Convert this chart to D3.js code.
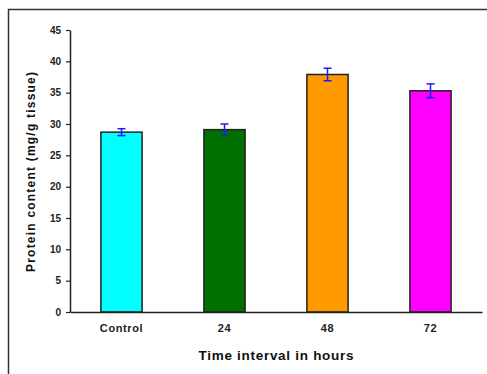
<!DOCTYPE html>
<html lang="en">
<head>
<meta charset="utf-8">
<title>Protein content</title>
<script src="https://d3js.org/d3.v7.min.js"></script>
<style>
  body { margin: 0; background: #fff; }
  svg text { font-family: "Liberation Sans", Arial, sans-serif; font-weight: bold; }
</style>
</head>
<body>
<div id="chart"></div>
<script>
// data
const categories = ["Control", "24", "48", "72"];
const values = [28.7, 29.1, 37.9, 35.3];
const errors = [0.55, 0.9, 1.0, 1.1];
const colors = ["#00ffff", "#007000", "#ff9900", "#ff00ff"];
const yTicks = [0, 5, 10, 15, 20, 25, 30, 35, 40, 45];

const W = 487, H = 374;
const margin = { top: 30, right: 5, bottom: 62, left: 70 };

const svg = d3.select("#chart").append("svg")
    .attr("width", W)
    .attr("height", H);

// outer frame (runs past the right and bottom edges)
svg.append("rect")
    .attr("x", 8.5).attr("y", 9.5)
    .attr("width", W + 10).attr("height", H + 10)
    .attr("fill", "none")
    .attr("stroke", "#333")
    .attr("stroke-width", 1.5);

const x = d3.scaleBand()
    .domain(categories)
    .range([margin.left, W - margin.right])
    .paddingInner(0.6)
    .paddingOuter(0.3);

const y = d3.scaleLinear()
    .domain([0, 45])
    .range([H - margin.bottom, margin.top]);

// bars
svg.selectAll(".bar")
    .data(categories)
    .enter().append("rect")
    .attr("class", "bar")
    .attr("x", d => x(d))
    .attr("y", (d, i) => y(values[i]))
    .attr("width", x.bandwidth())
    .attr("height", (d, i) => y(0) - y(values[i]))
    .attr("fill", (d, i) => colors[i])
    .attr("stroke", "#222")
    .attr("stroke-width", 1.5);

// error bars
const eb = svg.selectAll(".err")
    .data(categories)
    .enter().append("g")
    .attr("class", "err")
    .attr("stroke", "#1a1aff")
    .attr("stroke-width", 1.5);
eb.append("line")
    .attr("x1", d => x(d) + x.bandwidth() / 2)
    .attr("x2", d => x(d) + x.bandwidth() / 2)
    .attr("y1", (d, i) => y(values[i] + errors[i]))
    .attr("y2", (d, i) => y(values[i] - errors[i]));
eb.append("line")
    .attr("x1", d => x(d) + x.bandwidth() / 2 - 4)
    .attr("x2", d => x(d) + x.bandwidth() / 2 + 4)
    .attr("y1", (d, i) => y(values[i] + errors[i]))
    .attr("y2", (d, i) => y(values[i] + errors[i]));
eb.append("line")
    .attr("x1", d => x(d) + x.bandwidth() / 2 - 4)
    .attr("x2", d => x(d) + x.bandwidth() / 2 + 4)
    .attr("y1", (d, i) => y(values[i] - errors[i]))
    .attr("y2", (d, i) => y(values[i] - errors[i]));

// y axis
const yAxis = svg.append("g")
    .attr("transform", `translate(${margin.left},0)`)
    .call(d3.axisLeft(y).tickValues(yTicks).tickSize(4).tickSizeOuter(0));
yAxis.select(".domain").attr("stroke", "#222").attr("stroke-width", 1.5);
yAxis.selectAll(".tick line").attr("stroke", "#222").attr("stroke-width", 1.2);
yAxis.selectAll("text")
    .attr("x", -9)
    .style("font-size", "10px")
    .attr("fill", "#222");

// x axis
const xAxis = svg.append("g")
    .attr("transform", `translate(0,${y(0)})`)
    .call(d3.axisBottom(x).tickSize(0).tickSizeOuter(0));
xAxis.select(".domain").attr("stroke", "#222").attr("stroke-width", 1.5);
xAxis.selectAll("text")
    .attr("y", 12)
    .style("font-size", "11px")
    .style("letter-spacing", "0.6px")
    .attr("fill", "#222");

// axis titles
svg.append("text")
    .attr("x", 276)
    .attr("y", 360)
    .attr("text-anchor", "middle")
    .style("font-size", "13.5px")
    .attr("textLength", 155)
    .attr("lengthAdjust", "spacing")
    .attr("fill", "#111")
    .text("Time interval in hours");

svg.append("text")
    .attr("transform", "translate(35,172) rotate(-90)")
    .attr("text-anchor", "middle")
    .style("font-size", "12px")
    .attr("textLength", 200)
    .attr("lengthAdjust", "spacing")
    .attr("fill", "#111")
    .text("Protein content (mg/g tissue)");
</script>
</body>
</html>
